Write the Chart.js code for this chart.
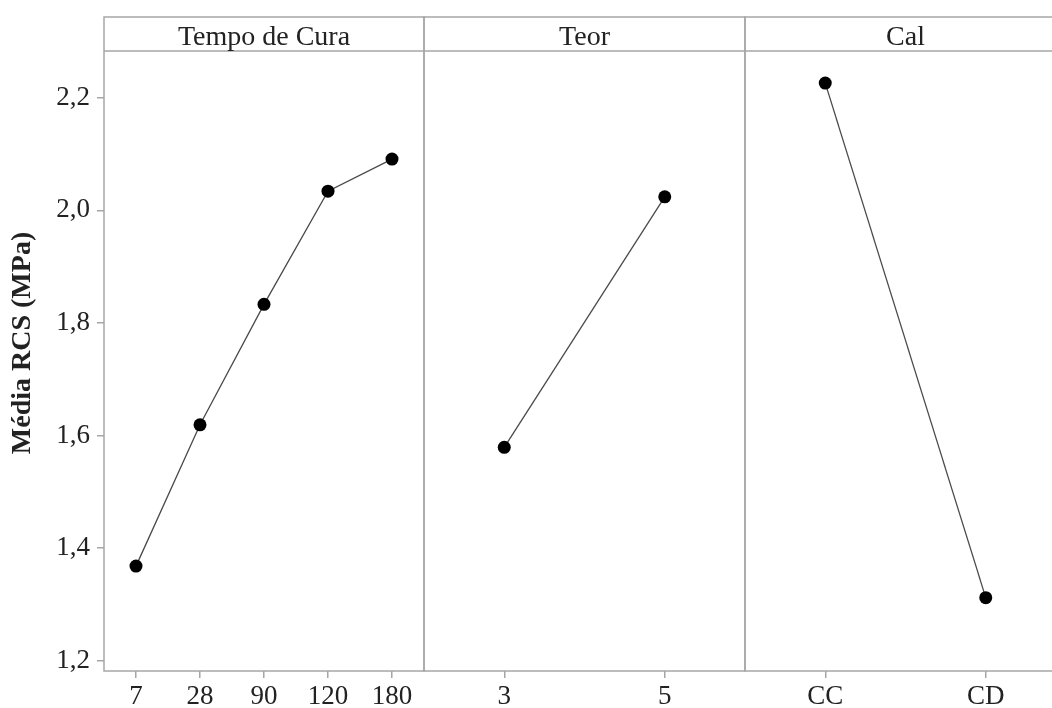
<!DOCTYPE html>
<html>
<head>
<meta charset="utf-8">
<script src="https://cdn.jsdelivr.net/npm/chart.js"></script>
<style>
  html, body { margin: 0; padding: 0; background: #fff; overflow: hidden; }
  #wrap { position: relative; width: 1052px; height: 708px; overflow: hidden; }
  #wrap canvas { position: absolute; top: 0; }
</style>
</head>
<body>
<div id="wrap">
  <canvas id="c1" width="426" height="708" style="left:0px"></canvas>
  <canvas id="c2" width="325" height="708" style="left:422px"></canvas>
  <canvas id="c3" width="325" height="708" style="left:743px"></canvas>
</div>
<script>
// main effects for mean RCS
var tempoLabels = ['7', '28', '90', '120', '180'];
var tempoMeans = [1.368, 1.619, 1.833, 2.034, 2.091];
var teorLabels = ['3', '5'];
var teorMeans = [1.579, 2.024];
var calLabels = ['CC', 'CD'];
var calMeans = [2.226, 1.312];
var yTicks = [1.2, 1.4, 1.6, 1.8, 2.0, 2.2];
var yMin = 1.1817, yMax = 2.283;

var FONT = '"Liberation Serif", "Times New Roman", serif';
var FRAME = '#a6a6a6';
var HEADER_TOP = 17;

var panelFrame = {
    id: 'panelFrame',
    beforeDatasetsDraw: function (chart, args, opts) {
        var ctx = chart.ctx, a = chart.chartArea;
        ctx.save();
        ctx.strokeStyle = FRAME;
        ctx.lineWidth = 1.5;
        ctx.strokeRect(a.left, HEADER_TOP, a.right - a.left, a.bottom - HEADER_TOP);
        ctx.beginPath();
        ctx.moveTo(a.left, a.top);
        ctx.lineTo(a.right, a.top);
        ctx.stroke();
        ctx.fillStyle = '#222';
        ctx.font = '28px ' + FONT;
        ctx.textAlign = 'center';
        ctx.textBaseline = 'alphabetic';
        ctx.fillText(opts.title, (a.left + a.right) / 2, a.top - 6);
        if (opts.yTitle) {
            ctx.translate(23, 343);
            ctx.rotate(-Math.PI / 2);
            ctx.font = 'bold 28px ' + FONT;
            ctx.textBaseline = 'middle';
            ctx.fillText(opts.yTitle, 0, 0);
        }
        ctx.restore();
    }
};

function makePanel(id, title, labels, values, showY) {
    var ctx = document.getElementById(id).getContext('2d');
    return new Chart(ctx, {
        type: 'line',
        data: {
            labels: labels,
            datasets: [{
                data: values,
                borderColor: '#4a4a4a',
                borderWidth: 1.3,
                pointRadius: 6.5,
                pointBackgroundColor: '#000',
                pointBorderColor: '#000',
                pointBorderWidth: 0,
                tension: 0
            }]
        },
        options: {
            responsive: false,
            animation: false,
            devicePixelRatio: 1,
            layout: {
                autoPadding: false,
                padding: { left: showY ? 0 : 2, right: 2, top: 51, bottom: 0 }
            },
            plugins: {
                legend: { display: false },
                tooltip: { enabled: false },
                panelFrame: { title: title, yTitle: showY ? 'Média RCS (MPa)' : null }
            },
            scales: {
                x: {
                    type: 'category',
                    offset: true,
                    border: { display: false },
                    grid: { drawOnChartArea: false, tickLength: 7, color: FRAME, lineWidth: 1.5 },
                    ticks: { color: '#222', padding: 3, font: { family: FONT, size: 27 }, maxRotation: 0, autoSkip: false },
                    afterFit: function (scale) {
                        scale.height = 37;
                        scale.paddingLeft = 0;
                        scale.paddingRight = 0;
                    }
                },
                y: {
                    display: showY,
                    min: yMin,
                    max: yMax,
                    border: { display: false },
                    grid: { drawOnChartArea: false, tickLength: 7, color: FRAME, lineWidth: 1.5 },
                    ticks: {
                        color: '#222',
                        padding: 7,
                        font: { family: FONT, size: 27 },
                        callback: function (v) { return v.toFixed(1).replace('.', ','); }
                    },
                    afterBuildTicks: function (scale) {
                        scale.ticks = yTicks.map(function (v) { return { value: v }; });
                    },
                    afterFit: function (scale) { if (showY) scale.width = 104; }
                }
            }
        },
        plugins: [panelFrame]
    });
}

makePanel('c1', 'Tempo de Cura', tempoLabels, tempoMeans, true);
makePanel('c2', 'Teor', teorLabels, teorMeans, false);
makePanel('c3', 'Cal', calLabels, calMeans, false);
</script>
</body>
</html>
